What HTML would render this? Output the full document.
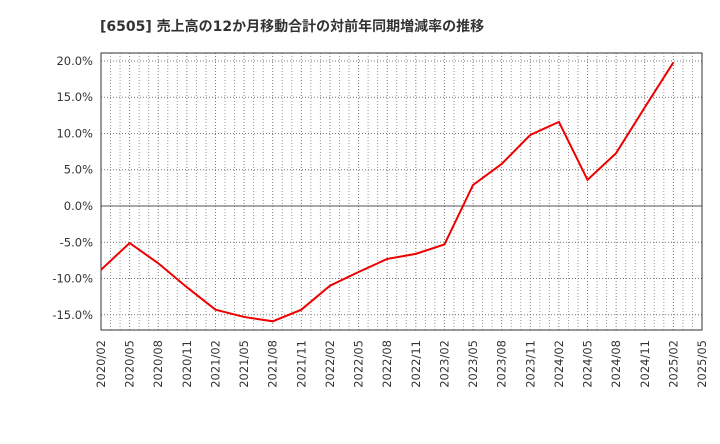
<!DOCTYPE html>
<html><head><meta charset="utf-8"><style>
body{margin:0;background:#fff;font-family:"DejaVu Sans","Noto Sans CJK JP",sans-serif;}
</style></head><body>
<svg id="chart" width="720" height="440" xmlns="http://www.w3.org/2000/svg">
<text x="100" y="31" font-size="14" font-weight="bold" fill="#333" font-family="DejaVu Sans, Noto Sans CJK JP, sans-serif">[6505]  売上高の12か月移動合計の対前年同期増減率の推移</text>
<g id="grid"></g><g id="axes"></g><g id="series"></g>
</svg>
<script>
const xLabels=["2020/02","2020/05","2020/08","2020/11","2021/02","2021/05","2021/08","2021/11","2022/02","2022/05","2022/08","2022/11","2023/02","2023/05","2023/08","2023/11","2024/02","2024/05","2024/08","2024/11","2025/02","2025/05"];
const values=[-8.8,-5.1,-7.9,-11.2,-14.3,-15.3,-15.9,-14.3,-11.0,-9.1,-7.3,-6.6,-5.3,2.9,5.8,9.8,11.6,3.6,7.3,13.6,19.8];
const yTicks=[20,15,10,5,0,-5,-10,-15];
const L=101,R=702,T=53,B=330,yMin=-17.1,yMax=21.1;
const NS="http://www.w3.org/2000/svg";
const FONT="DejaVu Sans, sans-serif";
function xs(i){return L+i*(R-L)/(xLabels.length-1);}
function ys(v){return B-(v-yMin)/(yMax-yMin)*(B-T);}
function mk(t,a,p){const e=document.createElementNS(NS,t);for(const k in a)e.setAttribute(k,a[k]);p.appendChild(e);return e;}
const g=document.getElementById('grid'),ax=document.getElementById('axes'),s=document.getElementById('series');
for(let m=1;m<(xLabels.length-1)*3;m++){
 if(m%3===0)continue;
 const x=xs(m/3);
 const l=mk('line',{x1:x,x2:x,y1:T,y2:B,stroke:'#999','stroke-dasharray':'1,2','stroke-width':1},g);
 
 
}
xLabels.forEach((lab,i)=>{
 const x=xs(i);
 const l=mk('line',{x1:x,x2:x,y1:T,y2:B,stroke:'#777','stroke-dasharray':'1,2','stroke-width':1},g);
 
 
 const t=mk('text',{x:0,y:0,'font-size':11.5,fill:'#333','font-family':FONT,'text-anchor':'end',transform:`translate(${x+4},${B+10}) rotate(-90)`},ax);
 t.textContent=lab;
 
 
});
yTicks.forEach(v=>{
 const y=ys(v);
 const l=mk('line',{x1:L,x2:R,y1:y,y2:y,stroke:v===0?'#555':'#777','stroke-dasharray':v===0?'none':'1,2','stroke-width':1},g);
 
 
 const t=mk('text',{x:L-8,y:y+4,'font-size':11.5,fill:'#333','font-family':FONT,'text-anchor':'end'},ax);
 t.textContent=v.toFixed(1)+'%';
 
 
});
const f=mk('rect',{x:L,y:T,width:R-L,height:B-T,fill:'none',stroke:'#333','stroke-width':1},ax);


const p=mk('polyline',{points:values.map((v,i)=>xs(i)+','+ys(v)).join(' '),fill:'none',stroke:'#e00',"stroke-width":2},s);


</script>
</body></html>
